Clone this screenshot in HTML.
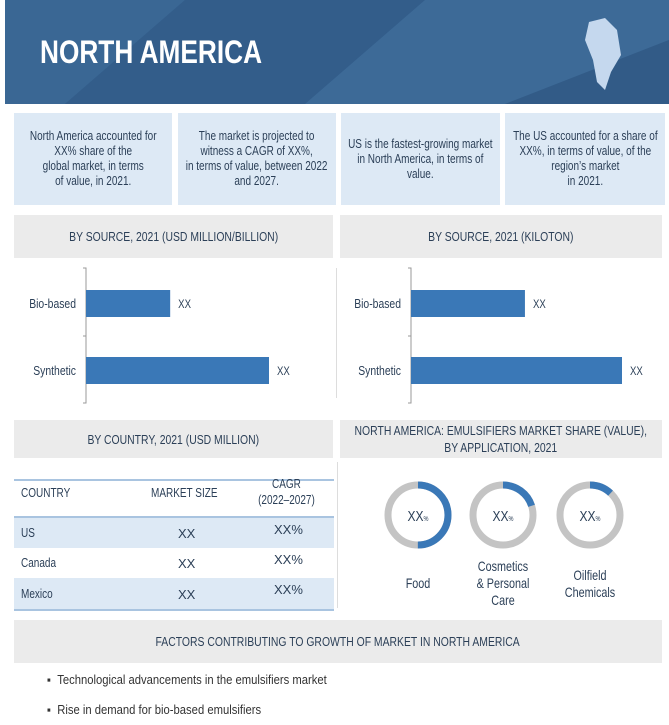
<!DOCTYPE html>
<html><head><meta charset="utf-8"><style>
*{margin:0;padding:0;box-sizing:border-box}
body{width:669px;height:725px;background:#fff;position:relative;overflow:hidden;font-family:"Liberation Sans",sans-serif;color:#2b3f57}
.abs{position:absolute}
.n{display:inline-block;transform:scaleX(.8);white-space:nowrap}
.box{position:absolute;background:#dde9f5;top:113px;height:92px;display:flex;align-items:center;justify-content:center;text-align:center;font-size:12.5px;line-height:15px;color:#2b3f57}
.hd{position:absolute;background:#ebebeb;display:flex;align-items:center;justify-content:center;text-align:center;font-size:13px;color:#2b3f57;line-height:17px}
.cell{position:absolute;font-size:12.5px;transform-origin:left top}
</style></head><body>
<div class="abs" style="left:5px;top:0;width:664px;height:104px;background:#36628f;overflow:hidden">
<svg width="664" height="104" style="position:absolute;left:0;top:0">
<polygon points="0,0 180,0 60,104 0,104" fill="#3a6794"/>
<polygon points="180,0 420,0 300,104 60,104" fill="#335d8a"/>
<polygon points="420,0 664,0 664,40 500,104 300,104" fill="#3d6a97"/>
<polygon points="664,40 664,104 500,104" fill="#325b87"/>
<polygon points="584,22 600,18 612,30 616,55 606,72 600,90 592,82 588,60 580,40" fill="#c5d8ee"/>
</svg>
<div class="abs" style="left:35px;top:34px;font-size:32px;font-weight:bold;color:#fff;transform:scaleX(.82);transform-origin:left top;white-space:nowrap">NORTH AMERICA</div>
</div>
<div class="box" style="left:14px;width:158px"><span class="n">North America accounted for<br>XX% share of the<br>global market, in terms<br>of value, in 2021.</span></div>
<div class="box" style="left:178px;width:158px"><span class="n">The market is projected to<br>witness a CAGR of XX%,<br>in terms of value, between 2022<br>and 2027.</span></div>
<div class="box" style="left:341px;width:159px"><span class="n">US is the fastest-growing market<br>in North America, in terms of<br>value.</span></div>
<div class="box" style="left:505px;width:160px"><span class="n">The US accounted for a share of<br>XX%, in terms of value, of the<br>region’s market<br>in 2021.</span></div>

<div class="hd" style="left:14px;top:215px;width:319px;height:43px"><span class="n">BY SOURCE, 2021 (USD MILLION/BILLION)</span></div>
<div class="hd" style="left:340px;top:215px;width:322px;height:43px"><span class="n">BY SOURCE, 2021 (KILOTON)</span></div>
<div class="abs" style="left:336px;top:268px;width:1px;height:130px;background:#ddd"></div>
<svg id="bars" class="abs" style="left:0;top:260px" width="669" height="160"></svg>

<div class="hd" style="left:14px;top:420px;width:319px;height:38px"><span class="n">BY COUNTRY, 2021 (USD MILLION)</span></div>
<div class="hd" style="left:340px;top:420px;width:322px;height:38px"><span class="n">NORTH AMERICA: EMULSIFIERS MARKET SHARE (VALUE),<br>BY APPLICATION, 2021</span></div>

<div>
<div class="abs" style="left:14px;top:479px;width:320px;height:2px;background:#a9c4e0"></div>
<div class="abs" style="left:14px;top:516px;width:320px;height:2px;background:#a9c4e0"></div>
<div class="abs" style="left:14px;top:518px;width:320px;height:30px;background:#dde9f5"></div>
<div class="abs" style="left:14px;top:578px;width:320px;height:31px;background:#dde9f5"></div>
<div class="abs" style="left:14px;top:609px;width:320px;height:2px;background:#a9c4e0"></div>
<div class="cell" style="left:21px;top:486px;transform:scaleX(.8)">COUNTRY</div>
<div class="cell" style="left:151px;top:486px;transform:scaleX(.8)">MARKET SIZE</div>
<div class="cell" style="left:246px;top:476px;text-align:center;line-height:16px;width:80px"><span class="n">CAGR<br>(2022–2027)</span></div>
<div class="cell" style="left:21px;top:526px;transform:scaleX(.8)">US</div>
<div class="cell" style="left:178px;top:526px;font-size:13px">XX</div>
<div class="cell" style="left:274px;top:522px;font-size:13px">XX%</div>
<div class="cell" style="left:21px;top:556px;transform:scaleX(.8)">Canada</div>
<div class="cell" style="left:178px;top:556px;font-size:13px">XX</div>
<div class="cell" style="left:274px;top:552px;font-size:13px">XX%</div>
<div class="cell" style="left:21px;top:587px;transform:scaleX(.8)">Mexico</div>
<div class="cell" style="left:178px;top:587px;font-size:13px">XX</div>
<div class="cell" style="left:274px;top:582px;font-size:13px">XX%</div>
</div>
<div class="abs" style="left:337px;top:462px;width:1px;height:146px;background:#ddd"></div>
<svg id="donuts" class="abs" style="left:340px;top:460px" width="322" height="150"></svg>

<div class="hd" style="left:14px;top:620px;width:648px;height:43px"><span class="n">FACTORS CONTRIBUTING TO GROWTH OF MARKET IN NORTH AMERICA</span></div>
<div class="abs" style="left:47px;top:673px;font-size:12.5px;color:#333;transform:scaleX(.9);transform-origin:left top;white-space:nowrap">▪&nbsp;&nbsp;Technological advancements in the emulsifiers market</div>
<div class="abs" style="left:47px;top:703px;font-size:12.5px;color:#333;transform:scaleX(.9);transform-origin:left top;white-space:nowrap">▪&nbsp;&nbsp;Rise in demand for bio-based emulsifiers</div>

<script>
const sourceCategories=["Bio-based","Synthetic"];
const valueSeries=[46,100];
const volumeSeries=[54,100];
const valueLabels=["XX","XX"];
const appCategories=[["Food"],["Cosmetics","& Personal","Care"],["Oilfield","Chemicals"]];
const appShares=[50,20,12];
const NS="http://www.w3.org/2000/svg";
function mk(p,t,a){const e=document.createElementNS(NS,t);for(const k in a)e.setAttribute(k,a[k]);p.appendChild(e);return e;}
function ctext(p,x,y,str,size,anchor){const g=mk(p,'g',{transform:`translate(${x},${y}) scale(0.8,1)`});const t=mk(g,'text',{x:0,y:0,'text-anchor':anchor,'font-size':size,fill:'#2b3f57','font-family':'Liberation Sans, sans-serif'});t.textContent=str;return t;}
const bars=document.getElementById('bars');
function chart(x0,plotW,series,name){
  const xs=v=>x0+v/100*plotW;
  const ys=i=>30+i*67;
  const ax=mk(bars,'path',{d:`M${x0-3},8 H${x0} V143 H${x0-3} M${x0-3},76 H${x0}`,stroke:'#999',fill:'none'});
  
  series.forEach((v,i)=>{
    const r=mk(bars,'rect',{x:x0,y:ys(i),width:xs(v)-x0,height:27,fill:'#3a78b7'});
    
    
    const t=ctext(bars,x0-10,ys(i)+18,sourceCategories[i],13,'end');
    
    const l=ctext(bars,xs(v)+8,ys(i)+18,valueLabels[i],12,'start');
    
  });
}
chart(86,183,valueSeries,'value');
chart(411,211,volumeSeries,'volume');
const dn=document.getElementById('donuts');
const cx=[78,163,250],R=30,C=2*Math.PI*R;
appShares.forEach((s,i)=>{
  const g=mk(dn,'g',{});
  
  
  mk(g,'circle',{cx:cx[i],cy:55,r:R,fill:'none',stroke:'#c4c4c4','stroke-width':7});
  mk(g,'circle',{cx:cx[i],cy:55,r:R,fill:'none',stroke:'#3a78b7','stroke-width':7,'stroke-dasharray':`${s/100*C} ${C}`,transform:`rotate(-90 ${cx[i]} 55)`});
  const tg=mk(g,'g',{transform:`translate(${cx[i]},61) scale(0.8,1)`});
  const t=mk(tg,'text',{x:0,y:0,'text-anchor':'middle','font-size':15,fill:'#2b3f57','font-family':'Liberation Sans, sans-serif'});
  t.innerHTML='XX<tspan font-size="7">%</tspan>';
  const lines=appCategories[i];const base=lines.length===1?128:lines.length===2?120:111;
  lines.forEach((ln,j)=>{ctext(g,cx[i],base+j*17,ln,13.5,'middle');});
});
</script>
</body></html>
